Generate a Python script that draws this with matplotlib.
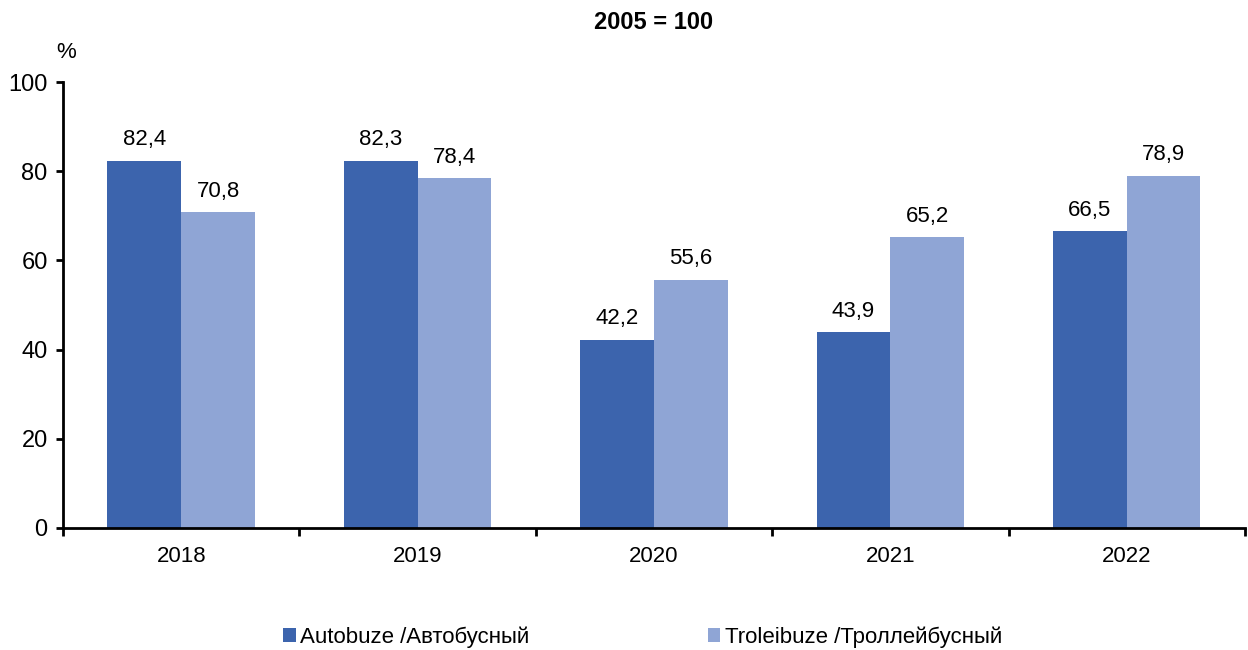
import matplotlib.pyplot as plt
import numpy as np
from matplotlib.patches import Patch

plt.rcParams["font.family"] = ["Liberation Sans", "DejaVu Sans"]

years = ["2018", "2019", "2020", "2021", "2022"]
autobuze = [82.4, 82.3, 42.2, 43.9, 66.5]
troleibuze = [70.8, 78.4, 55.6, 65.2, 78.9]
labels = ["Autobuze /Автобусный", "Troleibuze /Троллейбусный"]

DARK = "#3C64AD"
LIGHT = "#8FA5D5"
FS = 16

fig = plt.figure(figsize=(12.48, 6.5), dpi=100)
ax = fig.add_axes([0.0505, 0.1877, 0.947, 0.6861])

x = np.arange(len(years))
w = 0.312
ax.bar(x - w / 2, autobuze, w, color=DARK)
ax.bar(x + w / 2, troleibuze, w, color=LIGHT)

for xi, v in zip(x, autobuze):
    ax.text(xi - w / 2, v + 2.4, f"{v:.1f}".replace(".", ","), ha="center", va="bottom", fontsize=FS)
for xi, v in zip(x, troleibuze):
    ax.text(xi + w / 2, v + 2.4, f"{v:.1f}".replace(".", ","), ha="center", va="bottom", fontsize=FS)

ax.set_xlim(-0.5, len(years) - 0.5)
ax.set_ylim(0, 100)
ax.set_yticks(range(0, 101, 20))
ax.set_xticks(x)
ax.set_xticklabels(years)
ax.set_xticks(np.arange(len(years) + 1) - 0.5, minor=True)
ax.tick_params(axis="x", which="major", length=0, pad=13, labelsize=FS)
ax.tick_params(axis="x", which="minor", length=6, width=2, direction="out")
ax.tick_params(axis="y", length=5, width=2, direction="out", labelsize=17, pad=6)
for s in ("top", "right"):
    ax.spines[s].set_visible(False)
ax.spines["left"].set_linewidth(2)
ax.spines["bottom"].set_linewidth(2)

fig.text(0.524, 0.966, "2005 = 100", ha="center", va="center", fontsize=17, fontweight="bold")
fig.text(0.045, 0.92, "%", ha="left", va="center", fontsize=FS)

handles = [Patch(facecolor=DARK), Patch(facecolor=LIGHT)]
fig.legend(handles, labels, loc="center", bbox_to_anchor=(0.515, 0.02), ncol=2,
           frameon=False, fontsize=FS, handlelength=0.55, handleheight=0.55,
           handletextpad=0.2, columnspacing=8.05)

fig.savefig("out.png", dpi=100)
